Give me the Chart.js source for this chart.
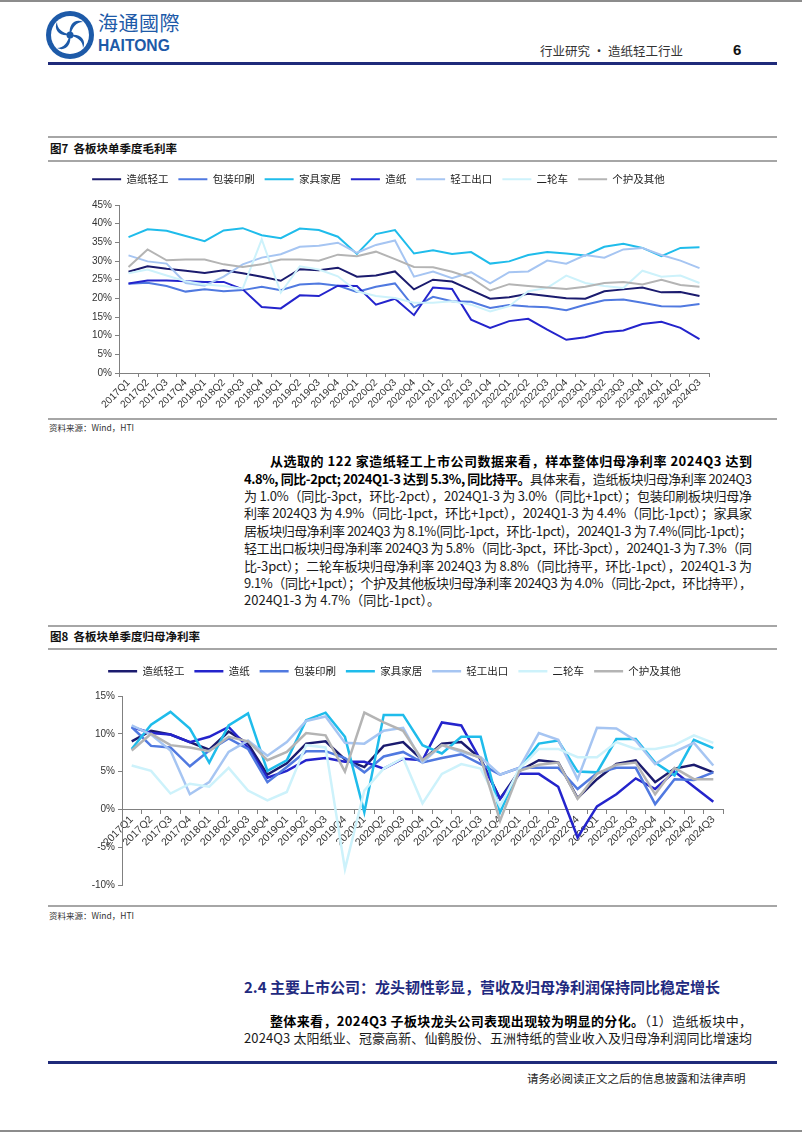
<!DOCTYPE html>
<html lang="zh-CN">
<head>
<meta charset="utf-8">
<title>行业研究 · 造纸轻工行业 6</title>
<script src="https://cdn.jsdelivr.net/npm/chart.js@4.4.1/dist/chart.umd.min.js"></script>
<style>
html,body{margin:0;padding:0;background:#fff;}
body{width:802px;height:1133px;position:relative;overflow:hidden;font-family:"Noto Sans CJK SC","Liberation Sans",sans-serif;color:#111;}
.t{position:absolute;white-space:nowrap;line-height:1;}
.rule{position:absolute;left:48px;width:729px;}
.gray{height:1.5px;background:#a6a6a6;}
.navy{height:2.5px;background:#1f2a7a;}
.edge{position:absolute;left:0;width:802px;height:2px;background:#8c8c8c;}
.fig-title{font-size:11.5px;font-weight:bold;left:50px;color:#111;}
.src{font-size:8.5px;color:#333;left:49px;}
.ln{position:absolute;left:244px;width:508px;font-size:13px;line-height:1;white-space:nowrap;color:#1a1a1a;}
.ln.ind{left:270px;width:482px;}
.ln b{font-weight:bold;color:#000;}
canvas{position:absolute;}
</style>
</head>
<body>

<!-- header -->
<div class="edge" style="top:0"></div>
<svg class="t" style="left:45px;top:10px" width="50" height="50" viewBox="0 0 50 50">
  <circle cx="25" cy="25" r="24" fill="#1d5aa8"/>
  <circle cx="25" cy="25" r="19" fill="#fff"/>
  <g fill="#1d5aa8">
    <path d="M25 25 C23 15 30 8 38 12 C31 12 28 17 25 25 Z"/>
    <path d="M25 25 C23 15 30 8 38 12 C31 12 28 17 25 25 Z" transform="rotate(90 25 25)"/>
    <path d="M25 25 C23 15 30 8 38 12 C31 12 28 17 25 25 Z" transform="rotate(180 25 25)"/>
    <path d="M25 25 C23 15 30 8 38 12 C31 12 28 17 25 25 Z" transform="rotate(270 25 25)"/>
    <circle cx="25" cy="25" r="3.5"/>
  </g>
</svg>
<div class="t" style="left:98px;top:13px;font-family:'Noto Sans CJK TC';font-size:20px;color:#1d5aa8;letter-spacing:0.5px">海通國際</div>
<div class="t" style="left:98px;top:37px;font-family:'Liberation Sans';font-weight:bold;font-size:17px;color:#1d5aa8;transform:scaleX(0.92);transform-origin:left">HAITONG</div>
<div class="t" style="left:540px;top:45px;font-size:12.5px;color:#333">行业研究 · 造纸轻工行业</div>
<div class="t" style="left:733px;top:42px;font-size:15px;font-weight:bold;font-family:'Liberation Sans'">6</div>
<div class="rule navy" style="top:62px"></div>

<!-- figure 7 -->
<div class="rule gray" style="top:136px"></div>
<div class="t fig-title" style="top:143px">图7&nbsp;&nbsp;各板块单季度毛利率</div>
<div class="rule gray" style="top:160px"></div>
<canvas id="c1" width="730" height="254" style="left:48px;top:164px"></canvas>
<div class="rule gray" style="top:418px"></div>
<div class="t src" style="top:423px">资料来源：Wind，HTI</div>

<!-- paragraph 1 -->
<div class="ln ind fit" style="top:454px"><span><b>从选取的 122 家造纸轻工上市公司数据来看，样本整体归母净利率 2024Q3 达到</b></span></div>
<div class="ln fit" style="top:471.5px"><span><b>4.8%, 同比-2pct; 2024Q1-3 达到 5.3%, 同比持平。</b>具体来看，造纸板块归母净利率 2024Q3</span></div>
<div class="ln fit" style="top:489px"><span>为 1.0%（同比-3pct，环比-2pct），2024Q1-3 为 3.0%（同比+1pct）；包装印刷板块归母净</span></div>
<div class="ln fit" style="top:506px"><span>利率 2024Q3 为 4.9%（同比-1pct，环比+1pct），2024Q1-3 为 4.4%（同比-1pct）；家具家</span></div>
<div class="ln fit" style="top:523.5px"><span>居板块归母净利率 2024Q3 为 8.1%(同比-1pct，环比-1pct)，2024Q1-3 为 7.4%(同比-1pct)；</span></div>
<div class="ln fit" style="top:541px"><span>轻工出口板块归母净利率 2024Q3 为 5.8%（同比-3pct，环比-3pct），2024Q1-3 为 7.3%（同</span></div>
<div class="ln fit" style="top:558.5px"><span>比-3pct）；二轮车板块归母净利率 2024Q3 为 8.8%（同比持平，环比-1pct），2024Q1-3 为</span></div>
<div class="ln fit" style="top:575.5px"><span>9.1%（同比+1pct）；个护及其他板块归母净利率 2024Q3 为 4.0%（同比-2pct，环比持平），</span></div>
<div class="ln" style="top:593px"><span>2024Q1-3 为 4.7%（同比-1pct）。</span></div>

<!-- figure 8 -->
<div class="rule gray" style="top:625px"></div>
<div class="t fig-title" style="top:631px">图8&nbsp;&nbsp;各板块单季度归母净利率</div>
<div class="rule gray" style="top:648px"></div>
<canvas id="c2" width="730" height="240" style="left:48px;top:656px"></canvas>
<div class="rule gray" style="top:905px"></div>
<div class="t src" style="top:911px">资料来源：Wind，HTI</div>

<!-- section 2.4 -->
<div class="t" style="left:244px;top:979px;font-size:15px;font-weight:bold;color:#1f2a80">2.4 主要上市公司：龙头韧性彰显，营收及归母净利润保持同比稳定增长</div>
<div class="ln ind fit" style="top:1013.5px"><span><b>整体来看，2024Q3 子板块龙头公司表现出现较为明显的分化。</b>（1）造纸板块中，</span></div>
<div class="ln fit" style="top:1030.5px"><span>2024Q3 太阳纸业、冠豪高新、仙鹤股份、五洲特纸的营业收入及归母净利润同比增速均</span></div>

<!-- footer -->
<div class="rule navy" style="top:1061px"></div>
<div class="t" style="left:527px;top:1073px;font-size:11.5px;color:#222">请务必阅读正文之后的信息披露和法律声明</div>
<div class="edge" style="top:1130px"></div>

<script>
// ---------- Data ----------
const quarters = ['2017Q1','2017Q2','2017Q3','2017Q4','2018Q1','2018Q2','2018Q3','2018Q4',
  '2019Q1','2019Q2','2019Q3','2019Q4','2020Q1','2020Q2','2020Q3','2020Q4',
  '2021Q1','2021Q2','2021Q3','2021Q4','2022Q1','2022Q2','2022Q3','2022Q4',
  '2023Q1','2023Q2','2023Q3','2023Q4','2024Q1','2024Q2','2024Q3'];

// 图7 毛利率 (%)
const grossTicks = [0, 5, 10, 15, 20, 25, 30, 35, 40, 45];
const grossNames = ['造纸轻工','包装印刷','家具家居','造纸','轻工出口','二轮车','个护及其他'];
const grossZhiQing  = [27.1,28.6,27.9,27.4,26.8,27.5,26.7,25.8,24.7,27.8,27.5,28.2,25.8,26.1,27.2,22.4,25.0,24.5,22.2,19.9,20.3,21.2,20.6,20.0,19.9,21.9,22.4,22.9,21.6,21.7,20.6];
const grossBaoZhuang= [23.9,24.2,23.3,21.8,22.4,21.9,22.2,23.1,22.2,23.7,24.0,23.4,21.7,23.1,24.0,17.6,20.4,19.2,19.1,17.4,18.2,17.8,17.6,16.8,18.3,19.5,19.7,18.8,17.9,17.8,18.5];
const grossJiaJu    = [36.4,38.5,38.1,36.7,35.3,38.2,38.8,36.9,36.1,38.7,38.3,36.5,31.9,37.2,38.3,32.0,32.9,31.9,32.4,29.3,29.9,31.6,32.4,32.0,31.5,33.8,34.6,33.5,31.3,33.5,33.7];
const grossZaoZhi   = [24.0,24.8,24.8,24.6,24.4,24.4,22.4,17.7,17.3,20.8,20.6,23.4,23.3,18.3,19.9,15.5,22.9,22.5,14.3,12.1,13.9,14.5,11.6,8.9,9.6,10.9,11.4,13.1,13.7,12.1,9.1];
const grossChuKou   = [31.5,29.9,29.3,24.1,23.4,25.8,29.1,30.9,31.8,33.8,34.1,34.9,32.2,34.3,35.5,25.8,27.2,25.4,27.0,24.0,27.0,27.2,30.1,29.3,31.6,30.9,33.1,33.5,31.6,30.1,28.1];
const grossErLun    = [26.7,27.7,26.1,24.6,23.7,23.3,22.6,35.8,21.5,28.6,27.7,25.9,21.9,20.6,20.1,18.8,18.8,19.2,18.3,16.5,17.9,21.9,22.8,26.1,24.1,23.3,22.8,27.4,25.8,26.1,24.1];
const grossGeHu     = [28.4,33.1,30.2,30.4,30.4,29.1,28.4,29.1,30.4,30.4,30.1,31.7,31.3,32.5,30.5,28.4,28.3,27.1,25.5,22.1,23.8,23.3,22.9,22.5,23.1,24.1,24.4,23.7,25.0,23.6,23.1];

// 图8 归母净利率 (%)
const netTicks = [-10, -5, 0, 5, 10, 15];
const netNames = ['造纸轻工','造纸','包装印刷','家具家居','轻工出口','二轮车','个护及其他'];
const netZhiQing  = [9.0,10.4,9.9,8.9,7.9,10.3,8.7,4.6,6.1,8.7,9.0,6.6,5.6,8.4,8.9,6.5,8.7,8.9,6.7,1.4,5.1,6.5,6.2,1.5,4.0,6.0,6.5,3.6,5.4,5.9,4.9];
const netZaoZhi   = [10.9,10.1,9.9,8.9,9.6,10.9,8.2,4.2,5.1,6.5,6.8,6.3,6.3,5.4,6.7,6.5,11.5,11.1,6.5,1.4,4.7,4.7,3.0,-3.7,0.4,2.0,4.1,2.7,5.0,3.0,1.0];
const netBaoZhuang= [10.9,8.4,8.2,5.7,7.8,9.4,8.0,3.6,5.6,7.7,7.7,6.8,4.9,7.0,7.6,6.2,6.8,7.3,6.0,4.6,5.5,5.5,5.5,2.7,4.8,5.5,5.5,0.7,4.0,3.9,4.9];
const netJiaJu    = [8.0,11.2,12.9,10.7,6.2,11.1,12.7,5.1,6.5,11.8,12.8,9.6,-0.4,12.5,12.5,8.5,7.4,9.6,9.6,-0.4,5.4,8.7,9.1,5.0,4.9,9.3,9.3,6.2,4.5,9.2,8.1];
const netChuKou   = [11.1,9.9,7.8,2.0,3.6,7.6,9.1,7.1,8.9,11.7,12.3,8.8,8.7,10.4,10.8,6.2,8.5,7.6,6.9,4.6,5.5,10.1,9.2,4.0,10.8,10.7,9.1,6.0,7.6,8.8,5.8];
const netErLun    = [5.8,5.1,2.1,3.4,3.0,5.5,2.5,1.2,2.3,8.5,8.2,-7.9,2.5,5.4,6.8,0.8,4.7,6.0,5.4,0.4,5.4,8.0,8.0,6.9,6.9,8.9,8.0,8.0,8.5,9.8,8.8];
const netGeHu     = [7.8,10.0,8.5,8.2,7.7,9.6,9.0,6.5,7.6,10.1,9.8,5.0,12.8,11.5,10.4,6.5,8.5,7.8,6.8,-1.5,5.1,5.9,6.2,1.4,4.7,5.9,6.2,2.0,5.5,4.0,4.0];

// ---------- Styles ----------
const seriesColor = {
  '造纸轻工':'#1b1b6e', '造纸':'#2424cc', '包装印刷':'#5079e0', '家具家居':'#1fbceb',
  '轻工出口':'#a6c5f2', '二轮车':'#cdf2fb', '个护及其他':'#b4b4b4'
};
const axisGray = '#808080';
const latin = '"Liberation Sans", Arial, sans-serif';
const cjk = '"Noto Sans CJK SC", sans-serif';

// legend height fixed so the plot area lands where the original has it; optional sideways nudge
const legendBox = {
  id: 'legendBox',
  beforeInit(chart, args, opts){
    const lg = chart.legend; if(!lg) return;
    const fit = lg.fit;
    lg.fit = function(){ fit.call(this); this.height = opts.height; };
  },
  afterLayout(chart, args, opts){
    const lg = chart.legend; if(!lg || !opts.shift) return;
    lg.left += opts.shift; lg.right += opts.shift;
  }
};

function buildSets(names, values, width){
  return names.map((n, i) => ({
    label: n, data: values[i], borderColor: seriesColor[n], backgroundColor: seriesColor[n],
    borderWidth: width, pointRadius: 0, pointHoverRadius: 0, tension: 0, fill: false, order: -i
  }));
}

function makeOptions(o){
  const ticks = o.ticks;
  return {
    responsive: false, animation: false, devicePixelRatio: 1,
    layout: { padding: { left: 0, right: o.padRight, top: 0, bottom: o.padBottom } },
    plugins: {
      legendBox: { height: o.legendH, shift: o.legendShift },
      tooltip: { enabled: false },
      legend: {
        position: 'top',
        labels: {
          usePointStyle: true, pointStyle: 'line', pointStyleWidth: 29,
          font: { family: cjk, size: 10.5 }, color: '#222', padding: 10,
          sort: (a, b) => a.datasetIndex - b.datasetIndex
        }
      }
    },
    scales: {
      x: {
        position: o.xAtZero ? { y: 0 } : 'bottom',
        offset: true,
        grid: { offset: true, drawOnChartArea: false, drawTicks: true, tickLength: 4, color: axisGray },
        border: { color: axisGray, width: 1 },
        ticks: { autoSkip: false, maxRotation: 45, minRotation: 45, padding: 0,
                 color: '#333', font: { family: latin, size: o.xFont } },
        afterFit(s){ s.height = o.xHeight; }
      },
      y: {
        min: ticks[0], max: ticks[ticks.length - 1],
        grid: { drawOnChartArea: false, drawTicks: true, tickLength: 4, color: axisGray },
        border: { color: axisGray, width: 1 },
        ticks: { stepSize: ticks[1] - ticks[0], padding: 3, color: '#333',
                 font: { family: latin, size: 10 }, callback: v => v + '%' },
        afterFit(s){ s.width = o.yWidth; }
      }
    }
  };
}

new Chart(document.getElementById('c1'), {
  type: 'line',
  data: { labels: quarters, datasets: buildSets(grossNames,
    [grossZhiQing, grossBaoZhuang, grossJiaJu, grossZaoZhi, grossChuKou, grossErLun, grossGeHu], 2) },
  options: makeOptions({ ticks: grossTicks, yWidth: 71, xHeight: 45, padRight: 69, padBottom: 0, legendH: 41, legendShift: 0, xFont: 10, xAtZero: false }),
  plugins: [legendBox]
});

new Chart(document.getElementById('c2'), {
  type: 'line',
  data: { labels: quarters, datasets: buildSets(netNames,
    [netZhiQing, netZaoZhi, netBaoZhuang, netJiaJu, netChuKou, netErLun, netGeHu], 2.5) },
  options: makeOptions({ ticks: netTicks, yWidth: 74, xHeight: 10, padRight: 55, padBottom: 11, legendH: 40, legendShift: 9, xFont: 10.5, xAtZero: true }),
  plugins: [legendBox]
});

// ---------- justify body lines ----------
document.querySelectorAll('.ln.fit').forEach(el => {
  const inner = el.firstElementChild;
  const target = el.clientWidth;
  const w = inner.getBoundingClientRect().width;
  const n = inner.textContent.length;
  if(n > 1) inner.style.letterSpacing = ((target - w) / (n - 1)) + 'px';
});
</script>
</body>
</html>
